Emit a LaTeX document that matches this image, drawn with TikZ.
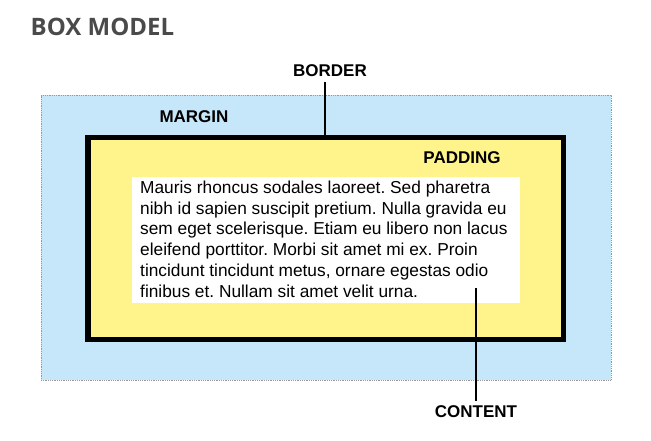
\documentclass[tikz,border=0pt]{standalone}
\usepackage{fontspec}
\setmainfont{Liberation Sans}
\newfontfamily\titlefont{Open Sans}
\usetikzlibrary{positioning}
\definecolor{marginblue}{HTML}{C6E7F9}
\definecolor{padyellow}{HTML}{FFF48C}
\definecolor{titlegray}{HTML}{4A4A4A}
\tikzset{marginbox/.style={draw=gray!80,densely dotted,fill=marginblue,line width=0.8pt,inner sep=0},
         borderbox/.style={draw=black,fill=padyellow,line width=5.5pt,inner sep=0},
         contentbox/.style={fill=white,draw=none,inner sep=0},
         bodytext/.style={font=\fontsize{17.3}{20.8}\selectfont\frenchspacing,align=left,inner sep=0},
         tag/.style={font=\fontsize{17}{20}\selectfont\bfseries,inner sep=0},
         pin/.style={draw,line width=1.2pt},
         x=1pt,y=-1pt}

\begin{document}
\begin{tikzpicture}
\useasboundingbox (0,0) rectangle (651,441);
\node[anchor=base west,text=titlegray,font=\titlefont\fontsize{24}{27}\selectfont\bfseries,inner sep=0] (title) at (30.5,35.5) {BOX MODEL};
% boxes
\node[marginbox,minimum width=570pt,minimum height=285pt] (margin) at (326,237.5) {};
\node[borderbox,minimum width=475.5pt,minimum height=201.5pt] (border) at (325.5,238.5) {};
\node[contentbox,minimum width=388pt,minimum height=126pt] (content) at (326,240) {};
\node[bodytext,anchor=north west] (lorem) at (140,180.5) {Mauris rhoncus sodales laoreet. Sed pharetra\\
nibh id sapien suscipit pretium. Nulla gravida eu\\
sem eget scelerisque. Etiam eu libero non lacus\\
eleifend porttitor. Morbi sit amet mi ex. Proin\\
tincidunt tincidunt metus, ornare egestas odio\\
finibus et. Nullam sit amet velit urna.};
% labels
\node[tag] (borderlbl) at (330,71) {BORDER};
\node[tag] (marginlbl) at (194,117) {MARGIN};
\node[tag] (paddinglbl) at (462,158) {PADDING};
\node[tag] (contentlbl) at (476,411.5) {CONTENT};
\coordinate (borderpin) at (325,82);
\coordinate (contentpin) at (476,288);
\draw[pin] (borderpin) -- (borderpin |- border.north);
\draw[pin] (contentpin) -- ([yshift=4pt]contentpin |- contentlbl.north);
\end{tikzpicture}
\end{document}
